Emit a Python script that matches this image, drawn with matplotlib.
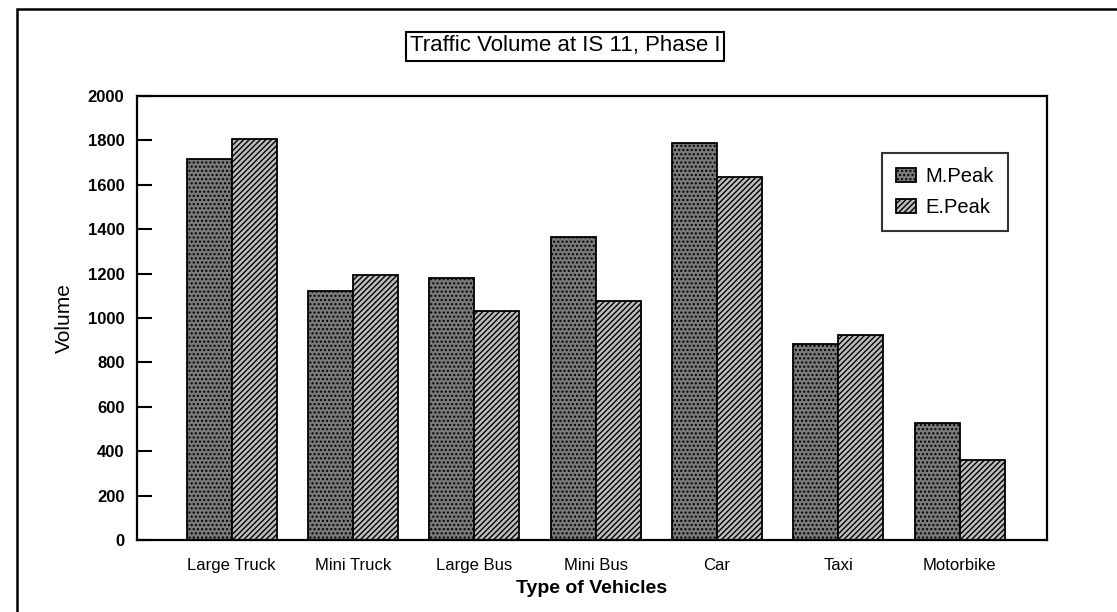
import matplotlib
matplotlib.use("Agg")
import matplotlib.pyplot as plt
import numpy as np
from matplotlib.patches import Rectangle

categories = ["Large Truck", "Mini Truck", "Large Bus", "Mini Bus", "Car", "Taxi", "Motorbike"]
m_peak = [1715, 1120, 1180, 1365, 1790, 885, 527]
e_peak = [1805, 1195, 1030, 1075, 1635, 925, 362]
series_names = ["M.Peak", "E.Peak"]
yticks = [0, 200, 400, 600, 800, 1000, 1200, 1400, 1600, 1800, 2000]

plt.rcParams['font.family'] = ['Liberation Sans', 'DejaVu Sans']
plt.rcParams['hatch.linewidth'] = 1.0
plt.rcParams['hatch.color'] = '#1a1a1a'

W, H = 1117, 612
fig = plt.figure(figsize=(W/100, H/100), dpi=100)
ax = fig.add_axes([137/W, 1 - 540/H, (1047-137)/W, (540-96)/H])

x = np.arange(len(categories))
w = 0.37
ax.bar(x - w/2, m_peak, w, facecolor='#7a7a7a', edgecolor='black', hatch='....',
       linewidth=1.3, label=series_names[0])
ax.bar(x + w/2, e_peak, w, facecolor='#bdbdbd', edgecolor='black', hatch='//////',
       linewidth=1.3, label=series_names[1])

ax.set_xlim(-0.78, 6.72)
ax.set_ylim(0, 2000)
ax.set_yticks(yticks)
ax.set_yticklabels([str(t) for t in yticks], fontsize=12, fontweight='bold')
ax.set_xticks(x)
ax.set_xticklabels(categories, fontsize=12)
ax.tick_params(axis='y', direction='in', length=11, width=1.5, pad=9)
ax.tick_params(axis='x', length=0, pad=13)
for s in ax.spines.values():
    s.set_linewidth(1.6)

ax.set_ylabel("Volume", fontsize=15, labelpad=10)
ax.set_xlabel("Type of Vehicles", fontsize=14, fontweight='bold', labelpad=5)

leg = ax.legend(loc='upper left', bbox_to_anchor=((882-137)/(1047-137), (540-153)/(540-96)),
                fontsize=14.5, frameon=True, fancybox=False, edgecolor='black',
                handlelength=1.0, handleheight=0.65, borderpad=0.7, labelspacing=0.6,
                handletextpad=0.45, borderaxespad=0)
leg.get_frame().set_linewidth(1.5)

fig.text(565/W, 1 - 46/H, "Traffic Volume at IS 11, Phase I", ha='center', va='center',
         fontsize=16, bbox=dict(boxstyle='square,pad=0.18', facecolor='white',
                                edgecolor='black', linewidth=1.5))

fig.patches.append(Rectangle((17/W, -0.1), 1.2, 1 - 9/H + 0.1, transform=fig.transFigure,
                             fill=False, edgecolor='black', linewidth=1.8))

fig.savefig("out.png", dpi=100)
